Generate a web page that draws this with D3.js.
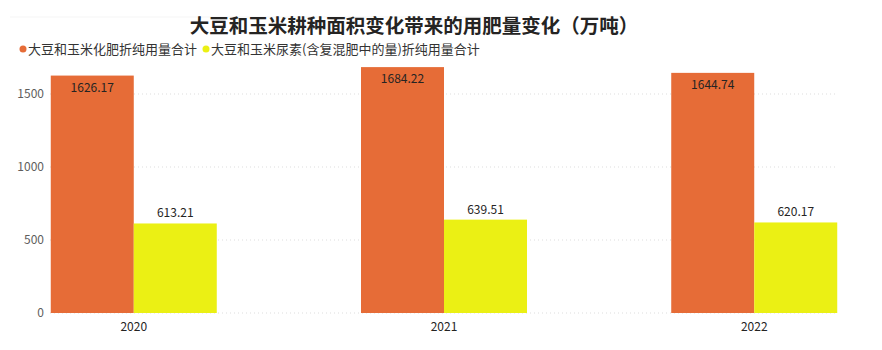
<!DOCTYPE html>
<html>
<head>
<meta charset="utf-8">
<script src="https://cdn.jsdelivr.net/npm/d3@7"></script>
<style>
  body { margin: 0; background: #fff; }
  svg { font-family: "Noto Sans CJK SC", "Noto Sans", sans-serif; }
</style>
</head>
<body>
<svg id="chart" width="882" height="350"></svg>
<script>
const years = ['2020', '2021', '2022'];
const seriesNames = ['大豆和玉米化肥折纯用量合计', '大豆和玉米尿素(含复混肥中的量)折纯用量合计'];
const fertTotal = [1626.17, 1684.22, 1644.74];
const ureaTotal = [613.21, 639.51, 620.17];
const yTicks = [0, 500, 1000, 1500];
const colors = ['#E66C37', '#EBF014'];

const svg = d3.select('svg#chart');
const plotLeft = 50, plotRight = 838, plotBottom = 313;

const x = d3.scalePoint().domain(years).range([plotLeft, plotRight]).padding(0.27);
const y = d3.scaleLinear().domain([0, 1500]).range([plotBottom, plotBottom - 219]);
const barW = 83;

// faint top rule
svg.append('line')
  .attr('x1', 10).attr('x2', 490).attr('y1', 17).attr('y2', 17)
  .attr('stroke', '#f5f5f5');

// title
svg.append('text')
  .attr('x', 414).attr('y', 33)
  .attr('text-anchor', 'middle')
  .attr('font-size', 19.5).attr('font-weight', 'bold')
  .attr('fill', '#252423')
  .text('大豆和玉米耕种面积变化带来的用肥量变化（万吨）');

// legend
const legendX = [23, 206];
seriesNames.forEach((name, i) => {
  svg.append('circle')
    .attr('cx', legendX[i]).attr('cy', 49).attr('r', 3.5)
    .attr('fill', colors[i]);
  svg.append('text')
    .attr('x', legendX[i] + 5).attr('y', 54)
    .attr('font-size', 13).attr('fill', '#333')
    .text(name);
});

// gridlines
svg.append('g')
  .selectAll('line')
  .data(yTicks)
  .enter()
  .append('line')
  .attr('x1', plotLeft).attr('x2', plotRight)
  .attr('y1', d => y(d)).attr('y2', d => y(d))
  .attr('stroke', '#ddd')
  .attr('stroke-dasharray', '1,3');

// y axis labels
svg.append('g')
  .selectAll('text')
  .data(yTicks)
  .enter()
  .append('text')
  .attr('x', 44).attr('y', d => y(d) + 4)
  .attr('text-anchor', 'end')
  .attr('font-size', 12).attr('fill', '#605e5c')
  .text(d => d);

// bars
const rows = years.map((yr, i) => ({ yr, a: fertTotal[i], b: ureaTotal[i] }));

const g = svg.append('g');
g.selectAll('rect.a')
  .data(rows)
  .enter()
  .append('rect')
  .attr('x', d => x(d.yr) - barW)
  .attr('y', d => y(d.a))
  .attr('width', barW)
  .attr('height', d => plotBottom - y(d.a))
  .attr('fill', colors[0]);

g.selectAll('rect.b')
  .data(rows)
  .enter()
  .append('rect')
  .attr('x', d => x(d.yr))
  .attr('y', d => y(d.b))
  .attr('width', barW)
  .attr('height', d => plotBottom - y(d.b))
  .attr('fill', colors[1]);

// value labels
g.selectAll('text.a')
  .data(rows)
  .enter()
  .append('text')
  .attr('x', d => x(d.yr) - barW / 2)
  .attr('y', d => y(d.a) + 16)
  .attr('text-anchor', 'middle')
  .attr('font-size', 12).attr('fill', '#252423')
  .text(d => d.a.toFixed(2));

g.selectAll('text.b')
  .data(rows)
  .enter()
  .append('text')
  .attr('x', d => x(d.yr) + barW / 2)
  .attr('y', d => y(d.b) - 6)
  .attr('text-anchor', 'middle')
  .attr('font-size', 12).attr('fill', '#252423')
  .text(d => d.b.toFixed(2));

// x labels
svg.append('g')
  .selectAll('text')
  .data(years)
  .enter()
  .append('text')
  .attr('x', d => x(d)).attr('y', 331)
  .attr('text-anchor', 'middle')
  .attr('font-size', 12).attr('fill', '#252423')
  .text(d => d);
</script>
</body>
</html>
